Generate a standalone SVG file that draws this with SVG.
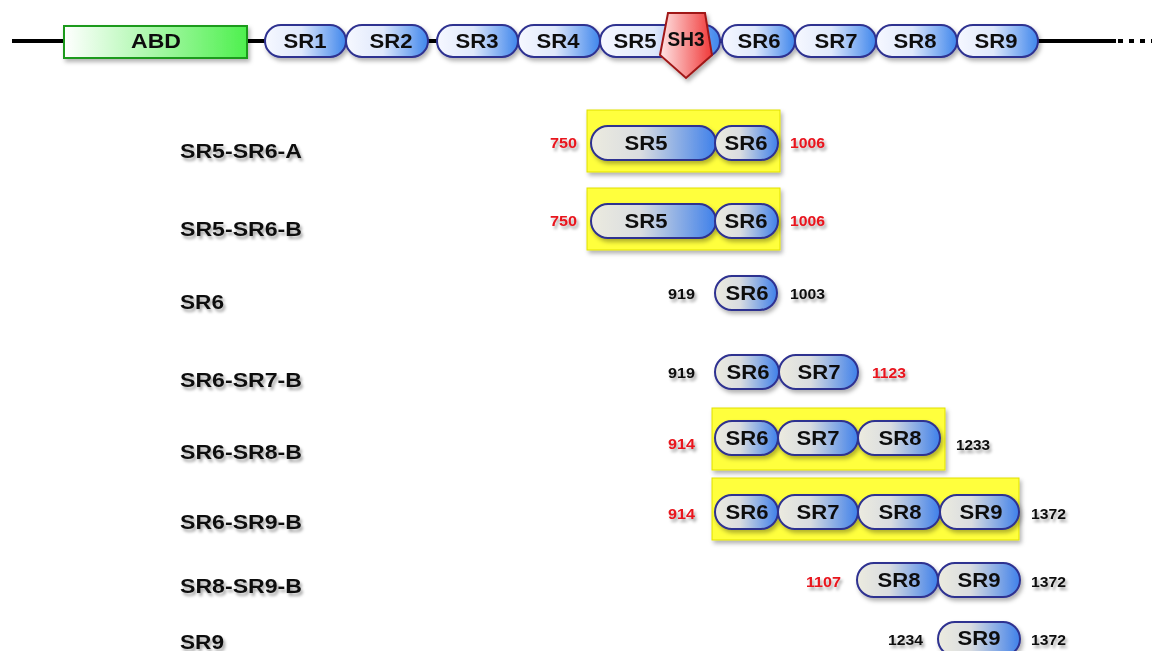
<svg xmlns="http://www.w3.org/2000/svg" width="1153" height="651" viewBox="0 0 1153 651">
<defs>
<linearGradient id="gTop" x1="0" y1="0" x2="1" y2="0">
<stop offset="0" stop-color="#f6f8ff"/><stop offset="0.45" stop-color="#dfe8fb"/><stop offset="1" stop-color="#3f86ec"/>
</linearGradient>
<linearGradient id="gSub" x1="0" y1="0" x2="1" y2="0">
<stop offset="0" stop-color="#ecebdf"/><stop offset="0.4" stop-color="#d9dce0"/><stop offset="1" stop-color="#3f80ea"/>
</linearGradient>
<linearGradient id="gAbd" x1="0" y1="0" x2="1" y2="0">
<stop offset="0" stop-color="#ffffff"/><stop offset="1" stop-color="#4ef04e"/>
</linearGradient>
<linearGradient id="gSh3" x1="0" y1="0" x2="1" y2="0">
<stop offset="0" stop-color="#ffe6e6"/><stop offset="1" stop-color="#f03a3a"/>
</linearGradient>
<filter id="sh" x="-10%" y="-20%" width="130%" height="160%">
<feDropShadow dx="2" dy="3" stdDeviation="2" flood-color="#000" flood-opacity="0.3"/>
</filter>
<filter id="tsh" x="-10%" y="-30%" width="130%" height="170%">
<feDropShadow dx="2" dy="3" stdDeviation="1.8" flood-color="#000" flood-opacity="0.35"/>
</filter>
</defs>
<style>
.pt{fill:url(#gTop);stroke:#2e3190;stroke-width:2}
.ps{fill:url(#gSub);stroke:#2e3190;stroke-width:2}
.yb{fill:#ffff3c;stroke:#e0e000;stroke-width:1;filter:url(#sh)}
.t{font-family:"Liberation Sans",Arial,sans-serif;font-weight:bold;fill:#111}
.pl{font-size:20px;text-anchor:middle}
.lab{font-size:20px;filter:url(#tsh)}
.num{font-size:14px;filter:url(#tsh)}
.red{fill:#e8141e}
</style>
<rect width="1153" height="651" fill="#ffffff"/>
<g id="connectors">
<line x1="12" y1="41" x2="1116" y2="41" stroke="#000" stroke-width="4"/>
<line x1="1118" y1="41" x2="1152" y2="41" stroke="#000" stroke-width="4" stroke-dasharray="5,6"/>
</g>
<g id="top" filter="url(#sh)">
<g id="ABD"><rect x="64" y="26" width="183" height="32" fill="url(#gAbd)" stroke="#1a9a1a" stroke-width="2"/><text class="t pl" x="156" y="48" textLength="50" lengthAdjust="spacingAndGlyphs">ABD</text></g>
<g id="SR1"><rect class="pt" x="265" y="25" width="81" height="32" rx="16"/><text class="t pl" x="305" y="48" textLength="43" lengthAdjust="spacingAndGlyphs">SR1</text></g>
<g id="SR2"><rect class="pt" x="346" y="25" width="82" height="32" rx="16"/><text class="t pl" x="391" y="48" textLength="43" lengthAdjust="spacingAndGlyphs">SR2</text></g>
<g id="SR3"><rect class="pt" x="437" y="25" width="81" height="32" rx="16"/><text class="t pl" x="477" y="48" textLength="43" lengthAdjust="spacingAndGlyphs">SR3</text></g>
<g id="SR4"><rect class="pt" x="518" y="25" width="82" height="32" rx="16"/><text class="t pl" x="558" y="48" textLength="43" lengthAdjust="spacingAndGlyphs">SR4</text></g>
<g id="SR5"><rect class="pt" x="600" y="25" width="120" height="32" rx="16"/><text class="t pl" x="635" y="48" textLength="43" lengthAdjust="spacingAndGlyphs">SR5</text></g>
<g id="SH3"><polygon points="668,13 705,13 712,55 686,78 660,55" fill="url(#gSh3)" stroke="#a01818" stroke-width="2"/><text class="t pl" x="686" y="46" textLength="37" lengthAdjust="spacingAndGlyphs">SH3</text></g>
<g id="SR6"><rect class="pt" x="722" y="25" width="73" height="32" rx="16"/><text class="t pl" x="759" y="48" textLength="43" lengthAdjust="spacingAndGlyphs">SR6</text></g>
<g id="SR7"><rect class="pt" x="795" y="25" width="81" height="32" rx="16"/><text class="t pl" x="836" y="48" textLength="43" lengthAdjust="spacingAndGlyphs">SR7</text></g>
<g id="SR8"><rect class="pt" x="876" y="25" width="81" height="32" rx="16"/><text class="t pl" x="915" y="48" textLength="43" lengthAdjust="spacingAndGlyphs">SR8</text></g>
<g id="SR9"><rect class="pt" x="957" y="25" width="81" height="32" rx="16"/><text class="t pl" x="996" y="48" textLength="43" lengthAdjust="spacingAndGlyphs">SR9</text></g>
</g>
<g id="row1">
<text class="t lab" x="180" y="158" textLength="122" lengthAdjust="spacingAndGlyphs">SR5-SR6-A</text>
<rect class="yb" x="587" y="110" width="193" height="62"/>
<g filter="url(#sh)">
<rect class="ps" x="591" y="126" width="125" height="34" rx="17"/><text class="t pl" x="646" y="150" textLength="43" lengthAdjust="spacingAndGlyphs">SR5</text>
<rect class="ps" x="715" y="126" width="63" height="34" rx="17"/><text class="t pl" x="746" y="150" textLength="43" lengthAdjust="spacingAndGlyphs">SR6</text>
</g>
<text class="t num red" x="550" y="148" textLength="27" lengthAdjust="spacingAndGlyphs">750</text>
<text class="t num red" x="790" y="148" textLength="35" lengthAdjust="spacingAndGlyphs">1006</text>
</g>
<g id="row2">
<text class="t lab" x="180" y="236" textLength="122" lengthAdjust="spacingAndGlyphs">SR5-SR6-B</text>
<rect class="yb" x="587" y="188" width="193" height="62"/>
<g filter="url(#sh)">
<rect class="ps" x="591" y="204" width="125" height="34" rx="17"/><text class="t pl" x="646" y="228" textLength="43" lengthAdjust="spacingAndGlyphs">SR5</text>
<rect class="ps" x="715" y="204" width="63" height="34" rx="17"/><text class="t pl" x="746" y="228" textLength="43" lengthAdjust="spacingAndGlyphs">SR6</text>
</g>
<text class="t num red" x="550" y="226" textLength="27" lengthAdjust="spacingAndGlyphs">750</text>
<text class="t num red" x="790" y="226" textLength="35" lengthAdjust="spacingAndGlyphs">1006</text>
</g>
<g id="row3">
<text class="t lab" x="180" y="309" textLength="44" lengthAdjust="spacingAndGlyphs">SR6</text>
<g filter="url(#sh)">
<rect class="ps" x="715" y="276" width="62" height="34" rx="17"/><text class="t pl" x="747" y="300" textLength="43" lengthAdjust="spacingAndGlyphs">SR6</text>
</g>
<text class="t num" x="668" y="299" textLength="27" lengthAdjust="spacingAndGlyphs">919</text>
<text class="t num" x="790" y="299" textLength="35" lengthAdjust="spacingAndGlyphs">1003</text>
</g>
<g id="row4">
<text class="t lab" x="180" y="387" textLength="122" lengthAdjust="spacingAndGlyphs">SR6-SR7-B</text>
<g filter="url(#sh)">
<rect class="ps" x="715" y="355" width="64" height="34" rx="17"/><text class="t pl" x="748" y="379" textLength="43" lengthAdjust="spacingAndGlyphs">SR6</text>
<rect class="ps" x="779" y="355" width="79" height="34" rx="17"/><text class="t pl" x="819" y="379" textLength="43" lengthAdjust="spacingAndGlyphs">SR7</text>
</g>
<text class="t num" x="668" y="378" textLength="27" lengthAdjust="spacingAndGlyphs">919</text>
<text class="t num red" x="872" y="378" textLength="34" lengthAdjust="spacingAndGlyphs">1123</text>
</g>
<g id="row5">
<text class="t lab" x="180" y="459" textLength="122" lengthAdjust="spacingAndGlyphs">SR6-SR8-B</text>
<rect class="yb" x="712" y="408" width="233" height="62"/>
<g filter="url(#sh)">
<rect class="ps" x="715" y="421" width="63" height="34" rx="17"/><text class="t pl" x="747" y="445" textLength="43" lengthAdjust="spacingAndGlyphs">SR6</text>
<rect class="ps" x="778" y="421" width="80" height="34" rx="17"/><text class="t pl" x="818" y="445" textLength="43" lengthAdjust="spacingAndGlyphs">SR7</text>
<rect class="ps" x="858" y="421" width="82" height="34" rx="17"/><text class="t pl" x="900" y="445" textLength="43" lengthAdjust="spacingAndGlyphs">SR8</text>
</g>
<text class="t num red" x="668" y="449" textLength="27" lengthAdjust="spacingAndGlyphs">914</text>
<text class="t num" x="956" y="450" textLength="34" lengthAdjust="spacingAndGlyphs">1233</text>
</g>
<g id="row6">
<text class="t lab" x="180" y="529" textLength="122" lengthAdjust="spacingAndGlyphs">SR6-SR9-B</text>
<rect class="yb" x="712" y="478" width="307" height="62"/>
<g filter="url(#sh)">
<rect class="ps" x="715" y="495" width="63" height="34" rx="17"/><text class="t pl" x="747" y="519" textLength="43" lengthAdjust="spacingAndGlyphs">SR6</text>
<rect class="ps" x="778" y="495" width="80" height="34" rx="17"/><text class="t pl" x="818" y="519" textLength="43" lengthAdjust="spacingAndGlyphs">SR7</text>
<rect class="ps" x="858" y="495" width="82" height="34" rx="17"/><text class="t pl" x="900" y="519" textLength="43" lengthAdjust="spacingAndGlyphs">SR8</text>
<rect class="ps" x="940" y="495" width="79" height="34" rx="17"/><text class="t pl" x="981" y="519" textLength="43" lengthAdjust="spacingAndGlyphs">SR9</text>
</g>
<text class="t num red" x="668" y="519" textLength="27" lengthAdjust="spacingAndGlyphs">914</text>
<text class="t num" x="1031" y="519" textLength="35" lengthAdjust="spacingAndGlyphs">1372</text>
</g>
<g id="row7">
<text class="t lab" x="180" y="593" textLength="122" lengthAdjust="spacingAndGlyphs">SR8-SR9-B</text>
<g filter="url(#sh)">
<rect class="ps" x="857" y="563" width="81" height="34" rx="17"/><text class="t pl" x="899" y="587" textLength="43" lengthAdjust="spacingAndGlyphs">SR8</text>
<rect class="ps" x="938" y="563" width="82" height="34" rx="17"/><text class="t pl" x="979" y="587" textLength="43" lengthAdjust="spacingAndGlyphs">SR9</text>
</g>
<text class="t num red" x="806" y="587" textLength="35" lengthAdjust="spacingAndGlyphs">1107</text>
<text class="t num" x="1031" y="587" textLength="35" lengthAdjust="spacingAndGlyphs">1372</text>
</g>
<g id="row8">
<text class="t lab" x="180" y="649" textLength="44" lengthAdjust="spacingAndGlyphs">SR9</text>
<g filter="url(#sh)">
<rect class="ps" x="938" y="622" width="82" height="34" rx="17"/><text class="t pl" x="979" y="645" textLength="43" lengthAdjust="spacingAndGlyphs">SR9</text>
</g>
<text class="t num" x="888" y="645" textLength="35" lengthAdjust="spacingAndGlyphs">1234</text>
<text class="t num" x="1031" y="645" textLength="35" lengthAdjust="spacingAndGlyphs">1372</text>
</g>
</svg>
